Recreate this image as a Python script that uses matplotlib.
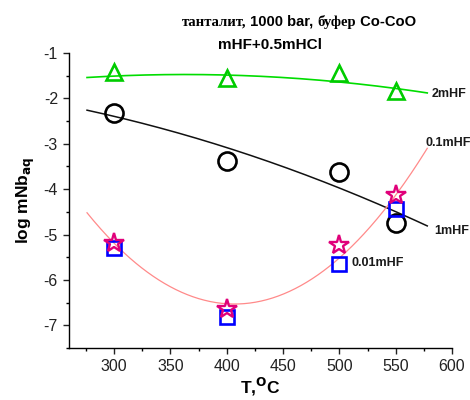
import numpy as np
import matplotlib
matplotlib.use("Agg")
import matplotlib.pyplot as plt
from matplotlib.ticker import MultipleLocator

plt.rcParams['font.family'] = ['Liberation Sans', 'DejaVu Sans']
plt.rcParams['axes.unicode_minus'] = False

# Measured solubilities (log mNb_aq) vs temperature, °C
temps = [300, 400, 500, 550]
hf_2 = [-1.42, -1.54, -1.45, -1.83]      # 2mHF
hf_1 = [-2.33, -3.38, -3.62, -4.74]      # 1mHF
hf_01 = [-5.19, -6.64, -5.24, -4.13]     # 0.1mHF
hf_001 = [-5.29, -6.82, -5.64, -4.43]    # 0.01mHF

# Trend curves (second-order), given by their values at three temperatures
curve_t = [276, 427, 578]
trend_2 = [-1.54, -1.51, -1.88]
trend_1_t = [276, 402, 578]
trend_1 = [-2.26, -3.10, -4.81]
trend_01_t = [276, 410, 578]
trend_01 = [-4.52, -6.53, -3.10]

fig = plt.figure(figsize=(4.7, 4.0), dpi=100)
ax = fig.add_axes([0.1468, 0.13, 0.815, 0.7375])


def trend(x, y):
    coef = np.polyfit(x, y, 2)
    t = np.linspace(min(x), max(x), 300)
    return t, np.polyval(coef, t)


ax.plot(*trend(curve_t, trend_2), color='#00dd00', lw=1.2, zorder=2)
ax.plot(*trend(trend_1_t, trend_1), color='#111111', lw=1.1, zorder=2)
ax.plot(*trend(trend_01_t, trend_01), color='#ff8a8a', lw=0.9, zorder=2)

ax.plot(temps, hf_2, linestyle='none', marker='^', ms=11, mfc='none',
        mec='#00cc00', mew=1.9, zorder=3)
ax.plot(temps, hf_1, linestyle='none', marker='o', ms=13, mfc='none',
        mec='black', mew=1.9, zorder=3)
ax.plot(temps, hf_001, linestyle='none', marker='s', ms=10.5, mfc='none',
        mec='#0000ff', mew=1.9, zorder=3)
ax.plot(temps, hf_01, linestyle='none', marker='*', ms=15, mfc='none',
        mec='#e0007a', mew=1.7, zorder=4)

lab_kw = dict(fontsize=9, fontweight='bold', color='#1a1a1a', va='center', ha='left')
ax.text(582, -1.90, '2mHF', **lab_kw)
ax.text(576, -2.98, '0.1mHF', **lab_kw)
ax.text(584, -4.92, '1mHF', **lab_kw)
ax.text(511, -5.62, '0.01mHF', **lab_kw)

ax.set_xlim(260, 600)
ax.set_ylim(-7.5, -1)
ax.set_xticks(np.arange(300, 601, 50))
ax.xaxis.set_minor_locator(MultipleLocator(25))
ax.yaxis.set_major_locator(MultipleLocator(1))
ax.yaxis.set_minor_locator(MultipleLocator(0.5))
ax.spines['top'].set_visible(False)
ax.spines['right'].set_visible(False)
for s in ('left', 'bottom'):
    ax.spines[s].set_linewidth(1.0)
ax.tick_params(which='major', direction='out', length=4, width=1,
               labelsize=11.5, pad=4, colors='#222222')
ax.tick_params(which='minor', direction='out', length=2.5, width=1)

ax.set_xlabel('T,$^{\\mathbf{O}}$C', fontsize=12.5, fontweight='bold', labelpad=1)
ax.set_ylabel('log mNb$_{\\mathbf{aq}}$', fontsize=12.5, fontweight='bold', labelpad=5)

# Title line 1: mixed serif / sans pieces laid out side by side
pieces = [('танталит,', 'Liberation Serif'), (' 1000 bar, ', 'Liberation Sans'),
          ('буфер', 'Liberation Serif'), (' Co-CoO', 'Liberation Sans')]
fig.canvas.draw()
renderer = fig.canvas.get_renderer()
texts = [fig.text(0, 0.945, s, family=[f, 'DejaVu Sans'], fontsize=10.6,
                  fontweight='bold', va='center', ha='left') for s, f in pieces]
widths = [t.get_window_extent(renderer).width for t in texts]
W = fig.bbox.width
x = 299 / W - sum(widths) / W / 2
for t, w in zip(texts, widths):
    t.set_x(x)
    x += w / W

fig.text(270 / 470, 0.888, 'mHF+0.5mHCl', ha='center', va='center',
         fontsize=11, fontweight='bold')

fig.savefig('out.png', dpi=100)
